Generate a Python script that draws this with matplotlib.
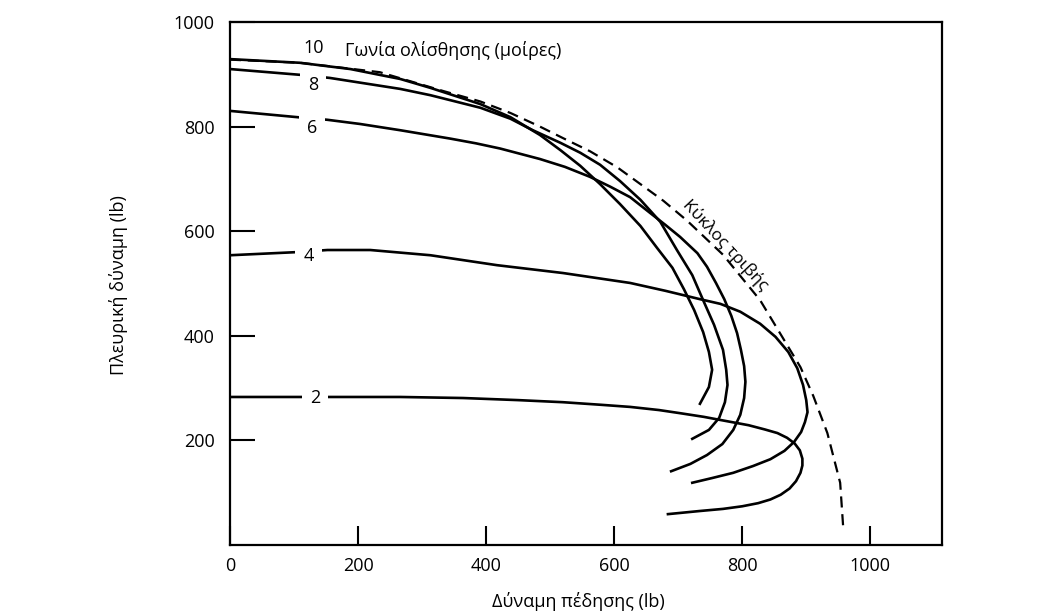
import matplotlib
matplotlib.use("Agg")
import matplotlib.pyplot as plt

# braking force (x) vs. lateral force (y), lb, one curve per slip angle
slip2_x = [0, 150, 266, 364, 450, 520, 580, 625, 670, 703, 740, 766, 810, 835, 855, 870, 882, 890,
           894, 894, 891, 884, 874, 860, 844, 825, 800, 770, 734, 684]
slip2_y = [283, 283, 283, 281, 277, 273, 268, 264, 258, 252, 245, 239, 229, 221, 214, 205, 194, 181,
           165, 152, 138, 122, 108, 96, 87, 80, 74, 69, 65, 59]

slip4_x = [0, 105, 152, 219, 313, 417, 520, 625, 680, 734, 766, 797, 828, 852, 872, 886, 895, 900,
           902, 898, 892, 881, 866, 844, 817, 786, 753, 722]
slip4_y = [554, 560, 564, 564, 554, 535, 520, 501, 486, 470, 461, 446, 423, 398, 369, 338, 306, 277,
           254, 235, 216, 197, 180, 164, 151, 138, 128, 119]

slip6_x = [0, 105, 152, 203, 266, 344, 384, 422, 484, 523, 562, 594, 625, 656, 680, 703, 730, 745,
           759, 772, 783, 792, 798, 803, 805, 803, 797, 786, 769, 745, 719, 689]
slip6_y = [830, 818, 813, 805, 793, 777, 768, 758, 738, 723, 704, 685, 665, 635, 612, 589, 558, 532,
           501, 470, 438, 405, 373, 342, 312, 281, 249, 220, 193, 172, 155, 141]

slip8_x = [0, 109, 156, 266, 313, 391, 438, 473, 516, 547, 578, 609, 641, 672, 698, 722, 739, 756,
           770, 775, 777, 773, 764, 748, 722]
slip8_y = [910, 899, 893, 872, 860, 836, 815, 793, 769, 750, 727, 696, 660, 618, 564, 516, 468, 421,
           373, 335, 306, 273, 243, 220, 203]

slip10_x = [0, 109, 188, 266, 313, 391, 438, 484, 516, 547, 578, 609, 641, 667, 691, 709, 725, 739,
            748, 753, 748, 734]
slip10_y = [929, 922, 910, 891, 874, 843, 818, 784, 755, 725, 690, 652, 610, 568, 530, 489, 449, 407,
            369, 335, 302, 270]

# friction circle
circle_x = [0, 109, 234, 333, 391, 438, 484, 520, 562, 605, 641, 677, 714, 770, 828, 859, 891, 911,
            933, 953, 958]
circle_y = [928, 922, 904, 868, 848, 826, 800, 778, 753, 722, 690, 658, 620, 555, 468, 405, 340, 285,
            214, 119, 29]

slip_angles = ["2", "4", "6", "8", "10"]
x_ticks = [0, 200, 400, 600, 800, 1000]
y_ticks = [200, 400, 600, 800, 1000]

plt.rcParams["font.family"] = ["Open Sans", "DejaVu Sans"]

fig = plt.figure(figsize=(10.64, 6.14), dpi=100)
ax = fig.add_axes([0.2162, 0.1124, 0.6691, 0.8518])

curves = [(slip2_x, slip2_y), (slip4_x, slip4_y), (slip6_x, slip6_y),
          (slip8_x, slip8_y), (slip10_x, slip10_y)]
for xs, ys in curves:
    ax.plot(xs, ys, color="black", lw=1.9, solid_joinstyle="round", zorder=2)

ax.plot(circle_x, circle_y, color="black", lw=1.6, linestyle=(0, (5, 3)), zorder=2)

# slip angle labels sit in small breaks of each curve
label_pos = {"2": (133, 281), "4": (123, 553), "6": (128, 797), "8": (130, 880)}
for angle in slip_angles[:-1]:
    lx, ly = label_pos[angle]
    ax.text(lx, ly, angle, fontsize=13, ha="center", va="center", zorder=3,
            bbox=dict(boxstyle="square,pad=0.45", fc="white", ec="none"))
ax.text(130, 950, slip_angles[-1], fontsize=13, ha="center", va="center")
ax.text(180, 946, "Γωνία ολίσθησης (μοίρες)", fontsize=13, ha="left", va="center")

# circle label runs along the dashed line, just on its outer side
ax.text(774, 574, "Κύκλος τριβής", fontsize=12.5, rotation=-47,
        ha="center", va="center", rotation_mode="anchor")

ax.set_xlim(0, 1112)
ax.set_ylim(0, 1000)
ax.set_xticks(x_ticks)
ax.set_yticks(y_ticks)
ax.tick_params(axis="x", direction="in", length=14, width=1.5, labelsize=13, pad=9)
ax.tick_params(axis="y", direction="in", length=18, width=1.5, labelsize=13, pad=11)
for side in ax.spines.values():
    side.set_linewidth(1.6)

ax.set_xlabel("Δύναμη πέδησης (lb)", fontsize=13)
ax.set_ylabel("Πλευρική δύναμη (lb)", fontsize=13)
ax.xaxis.set_label_coords(0.489, -0.09)
ax.yaxis.set_label_coords(-0.143, 0.497)

fig.savefig("out.png", dpi=100)
plt.close(fig)
